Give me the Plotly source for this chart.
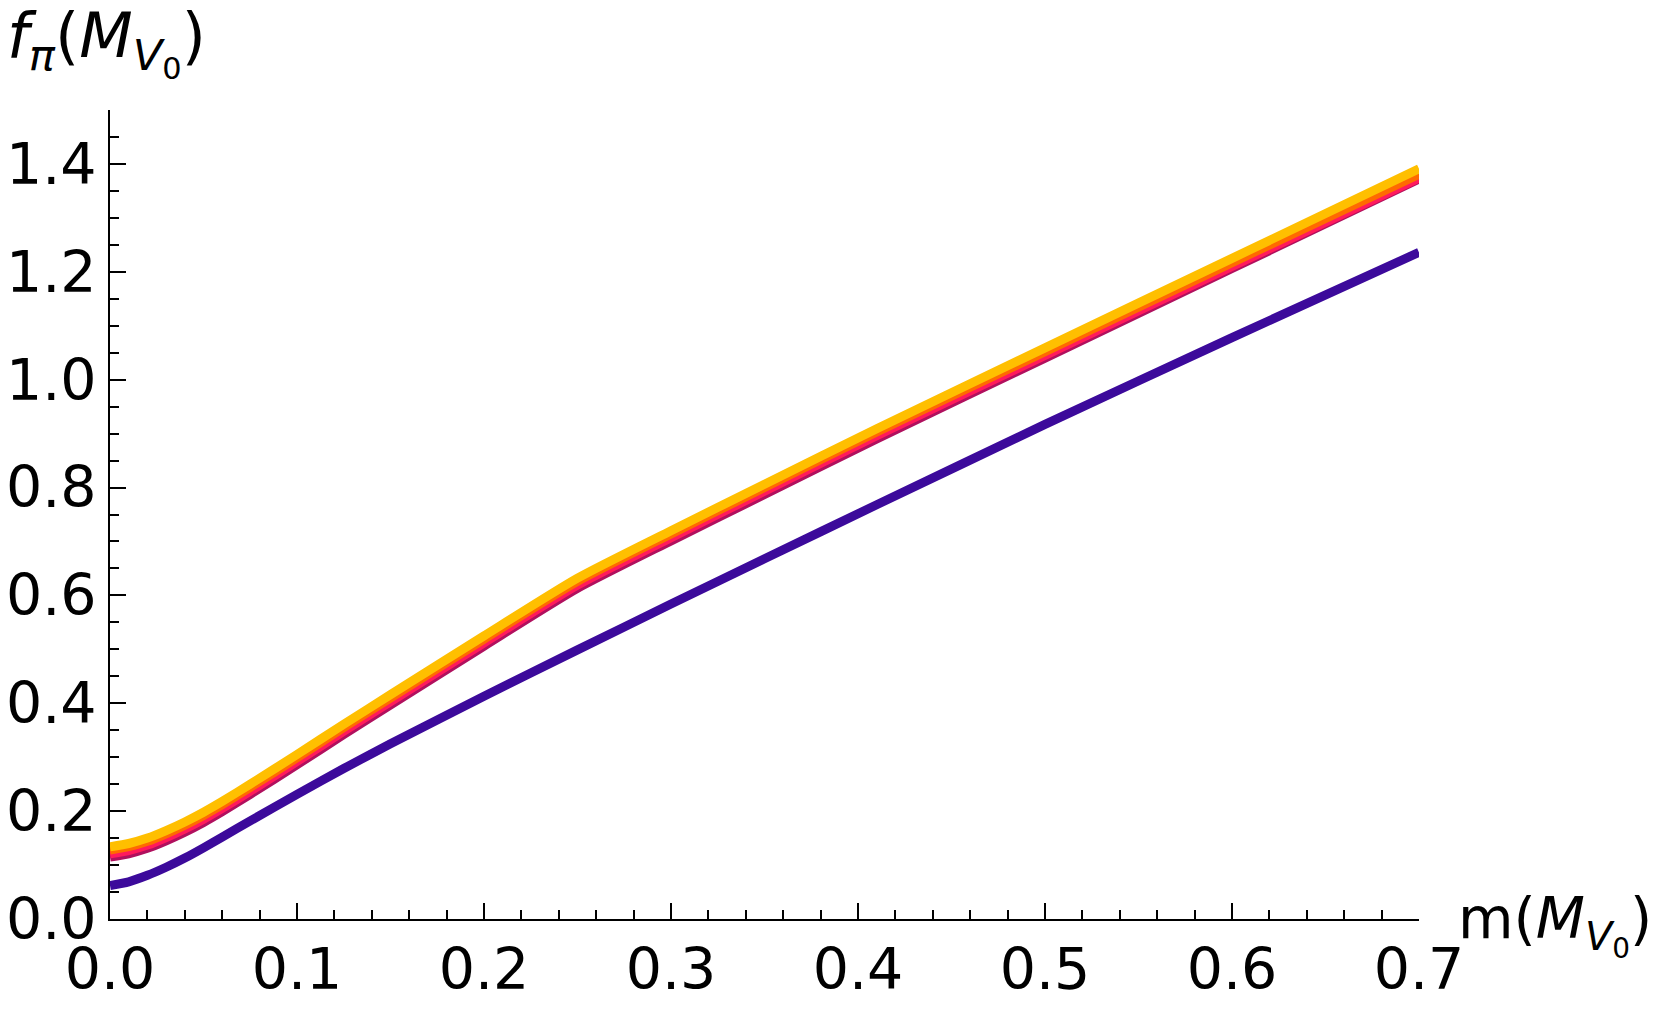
import plotly.graph_objects as go

# quark mass m in units of M_V0
m_vals = [0.0, 0.01, 0.02, 0.03, 0.04, 0.05, 0.06, 0.075, 0.1, 0.125, 0.15, 0.2, 0.25, 0.3, 0.35, 0.41, 0.5, 0.6, 0.7]

# f_pi(M_V0) curves, bottom to top
f_purple = [0.062, 0.069, 0.081, 0.096, 0.113, 0.132, 0.152, 0.182, 0.231, 0.279, 0.325, 0.413, 0.499, 0.584, 0.668, 0.768, 0.917, 1.078, 1.236]
f_magenta = [0.115, 0.121, 0.131, 0.145, 0.161, 0.179, 0.199, 0.231, 0.286, 0.342, 0.397, 0.506, 0.613, 0.701, 0.787, 0.890, 1.040, 1.206, 1.372]
f_red = [0.121, 0.127, 0.137, 0.151, 0.167, 0.185, 0.205, 0.237, 0.292, 0.348, 0.403, 0.512, 0.619, 0.707, 0.793, 0.896, 1.045, 1.210, 1.374]
f_orange = [0.128, 0.134, 0.144, 0.158, 0.174, 0.192, 0.212, 0.244, 0.299, 0.355, 0.410, 0.519, 0.626, 0.714, 0.800, 0.903, 1.052, 1.217, 1.381]
f_yellow = [0.134, 0.140, 0.150, 0.164, 0.180, 0.198, 0.218, 0.250, 0.305, 0.361, 0.416, 0.525, 0.632, 0.720, 0.806, 0.909, 1.059, 1.225, 1.391]

series = [
    (f_purple, '#3c0a9b'),
    (f_magenta, '#b0105e'),
    (f_red, '#ff1a5c'),
    (f_orange, '#ff6a00'),
    (f_yellow, '#ffbf00'),
]

FONT = 'DejaVu Sans'

fig = go.Figure()
for ys, col in series:
    fig.add_trace(go.Scatter(x=m_vals, y=ys, mode='lines',
                             line=dict(color=col, width=9, shape='spline', smoothing=0.6),
                             showlegend=False))

axis_common = dict(showline=True, linecolor='black', linewidth=2, showgrid=False, zeroline=False,
                   ticks='inside', ticklen=16, tickwidth=2, tickcolor='black', automargin=False,
                   tickfont=dict(family=FONT, size=57, color='black'), tickformat='.1f')

fig.update_layout(
    width=1661, height=1009,
    margin=dict(l=102, r=250, t=102, b=98),
    plot_bgcolor='white', paper_bgcolor='white',
    xaxis=dict(range=[0, 0.7], dtick=0.1, tick0=0,
               minor=dict(dtick=0.02, ticks='inside', ticklen=9, tickwidth=2, tickcolor='black'),
               **axis_common),
    yaxis=dict(range=[0, 1.5], dtick=0.2, tick0=0, ticklabelstandoff=0,
               minor=dict(dtick=0.05, ticks='inside', ticklen=9, tickwidth=2, tickcolor='black'),
               **axis_common),
)

# axis labels
fig.add_annotation(text='<i>f</i><sub><i>π</i></sub>(<i>M</i><sub><i>V</i><sub>0</sub></sub>)',
                   xref='paper', yref='paper', x=-0.08, y=1.084, xanchor='left', yanchor='middle',
                   showarrow=False, font=dict(family=FONT, size=62, color='black'))
fig.add_annotation(text='m(<i>M</i><sub><i>V</i><sub>0</sub></sub>)',
                   xref='paper', yref='paper', x=1.028, y=-0.007, xanchor='left', yanchor='middle',
                   showarrow=False, font=dict(family=FONT, size=57, color='black'))

fig.write_html("out.html")
